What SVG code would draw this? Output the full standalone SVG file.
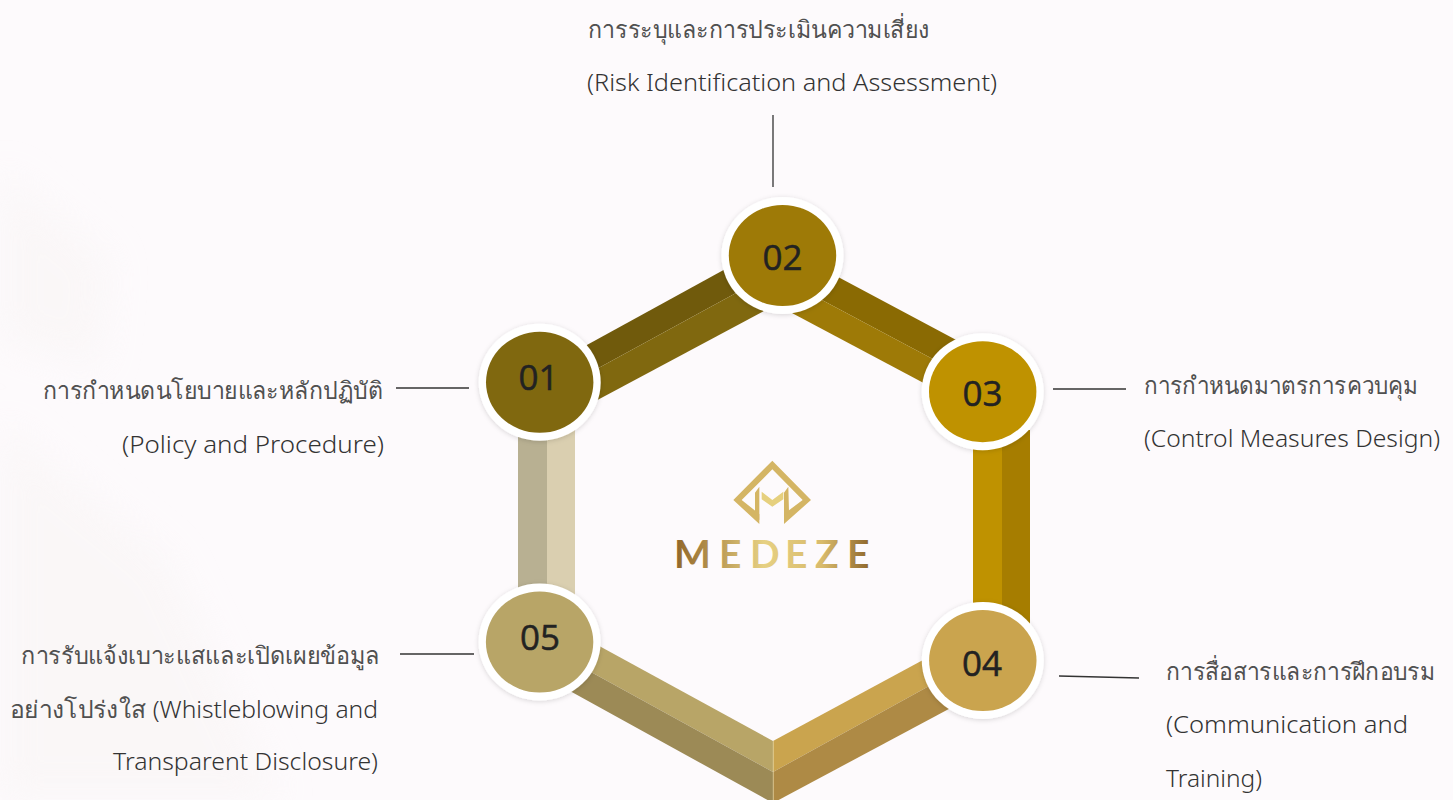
<svg xmlns="http://www.w3.org/2000/svg" width="1453" height="800" viewBox="0 0 1453 800">
<style>
.t{font-family:"Noto Sans","Open Sans","DejaVu Sans",sans-serif;font-size:24px;font-weight:300;fill:#333}
.th{fill:#505050}
.n{font-family:"Open Sans","Noto Sans",sans-serif;font-size:35px;fill:#222;stroke:#222;stroke-width:.5;text-anchor:middle}
.l{stroke:#333;stroke-width:1.3;fill:none}
.o{fill:#fff;filter:url(#sh)}
</style>
<defs>
<filter id="sh" x="-20%" y="-20%" width="140%" height="140%"><feDropShadow dx="0" dy="1" stdDeviation="2.500" flood-color="#000" flood-opacity=".15"/></filter>
<filter id="bl" x="-20%" y="-20%" width="140%" height="140%"><feGaussianBlur stdDeviation="18"/></filter>
<linearGradient id="g" gradientUnits="userSpaceOnUse" x1="677" y1="0" x2="870" y2="0"><stop offset="0" stop-color="#93692b"/><stop offset=".45" stop-color="#e6d083"/><stop offset=".75" stop-color="#d9bb6c"/><stop offset="1" stop-color="#8f672c"/></linearGradient>
</defs>
<rect width="1453" height="800" fill="#fdfafc"/>
<g filter="url(#bl)" fill="#f9f6f6" opacity=".7"><path d="M0 170L110 260L100 370L0 340Z"/><path d="M0 420L170 560L280 800L0 800Z"/></g>
<g id="bands">
<polygon points="565,357 750,255.500 780,269 560,389" fill="#705a0c"/>
<polygon points="560,389 780,269 775,305 575,412" fill="#80680f"/>
<polygon points="810,262 975,350 960,373.500 790,283" fill="#8a6a03"/>
<polygon points="790,283 960,373.500 950,397 775,304" fill="#9e7a07"/>
<rect x="973" y="430" width="29" height="190" fill="#bf9200"/>
<rect x="1002" y="430" width="28" height="200" fill="#a67d00"/>
<rect x="518" y="425" width="29" height="175" fill="#b8b092"/>
<rect x="547" y="425" width="28" height="175" fill="#dacfb0"/>
<polygon points="570,630 773,741 773,772 560,655" fill="#b8a567"/>
<polygon points="560,655 773,772 773,803 550,680" fill="#9c8a56"/>
<polygon points="960,640 773,741 773,772 960,669" fill="#caa44e"/>
<polygon points="960,669 773,772 773,803 975,695" fill="#ae8a45"/>
<line x1="773.300" y1="741" x2="773.300" y2="800" stroke="#e9dcb0" stroke-width=".7"/>
</g>
<g id="connectors">
<line class="l" x1="773" y1="115" x2="773" y2="187"/>
<line class="l" x1="396" y1="388" x2="469" y2="388"/>
<line class="l" x1="1053" y1="389" x2="1126" y2="389"/>
<line class="l" x1="1059" y1="676" x2="1139" y2="678"/>
<line class="l" x1="400" y1="654" x2="474" y2="654"/>
</g>
<g id="node-01"><ellipse class="o" cx="539.700" cy="382.300" rx="61" ry="58.500"/><ellipse cx="539.700" cy="382.300" rx="53.700" ry="50.500" fill="#80680f"/><text class="n" x="538.500" y="390">01</text></g>
<g id="node-02"><ellipse class="o" cx="782.500" cy="255.500" rx="61" ry="58.500"/><ellipse cx="782.500" cy="255.500" rx="53.700" ry="50.500" fill="#9e7a07"/><text class="n" x="782.500" y="270">02</text></g>
<g id="node-03"><ellipse class="o" cx="982.700" cy="391.700" rx="61" ry="58.500"/><ellipse cx="982.700" cy="391.700" rx="53.700" ry="50.500" fill="#bf9200"/><text class="n" x="982.500" y="406">03</text></g>
<g id="node-04"><ellipse class="o" cx="982.800" cy="660.500" rx="61" ry="58.500"/><ellipse cx="982.800" cy="660.500" rx="53.700" ry="50.500" fill="#caa44e"/><text class="n" x="982" y="676">04</text></g>
<g id="node-05"><ellipse class="o" cx="539.600" cy="642" rx="61" ry="58.500"/><ellipse cx="539.600" cy="642" rx="53.700" ry="50.500" fill="#b8a567"/><text class="n" x="540" y="650">05</text></g>
<g id="logo">
<g transform="translate(640 440) scale(.33333)">
<path fill="#d4b564" d="M397 62L513 180L432 252V222L488 180L397 88L305 180L358 222V252L280 180Z"/>
<path fill="#d4b564" d="M358 140L345 158V225L358 240ZM445 140L432 158V228L447 215Z"/>
<path fill="#e6d07e" d="M365 155L397 180L430 155V178L397 200L365 178Z"/>
</g>
<text x="674 719 750 785 815 847" y="568" font-family="Lato,sans-serif" font-size="39" font-weight="700" fill="url(#g)">MEDEZE</text>
</g>
<g id="labels">
<text class="t th" x="588" y="38" textLength="342" lengthAdjust="spacingAndGlyphs">การระบุและการประเมินความเสี่ยง</text>
<text class="t" x="587" y="91" textLength="410" lengthAdjust="spacingAndGlyphs">(Risk Identification and Assessment)</text>
<text class="t th" x="43" y="399" textLength="340" lengthAdjust="spacingAndGlyphs">การกำหนดนโยบายและหลักปฏิบัติ</text>
<text class="t" x="122" y="453" textLength="262" lengthAdjust="spacingAndGlyphs">(Policy and Procedure)</text>
<text class="t th" x="1144" y="394" textLength="274" lengthAdjust="spacingAndGlyphs">การกำหนดมาตรการควบคุม</text>
<text class="t" x="1144" y="447" textLength="296" lengthAdjust="spacingAndGlyphs">(Control Measures Design)</text>
<text class="t th" x="1166" y="680" textLength="269" lengthAdjust="spacingAndGlyphs">การสื่อสารและการฝึกอบรม</text>
<text class="t" x="1166" y="733" textLength="242" lengthAdjust="spacingAndGlyphs">(Communication and</text>
<text class="t" x="1166" y="787" textLength="96" lengthAdjust="spacingAndGlyphs">Training)</text>
<text class="t th" x="21" y="664" textLength="359" lengthAdjust="spacingAndGlyphs">การรับแจ้งเบาะแสและเปิดเผยข้อมูล</text>
<text class="t" x="10" y="718" textLength="368" lengthAdjust="spacingAndGlyphs"><tspan class="th">อย่างโปร่งใส</tspan> (Whistleblowing and</text>
<text class="t" x="113" y="770" textLength="265" lengthAdjust="spacingAndGlyphs">Transparent Disclosure)</text>
</g>
</svg>
